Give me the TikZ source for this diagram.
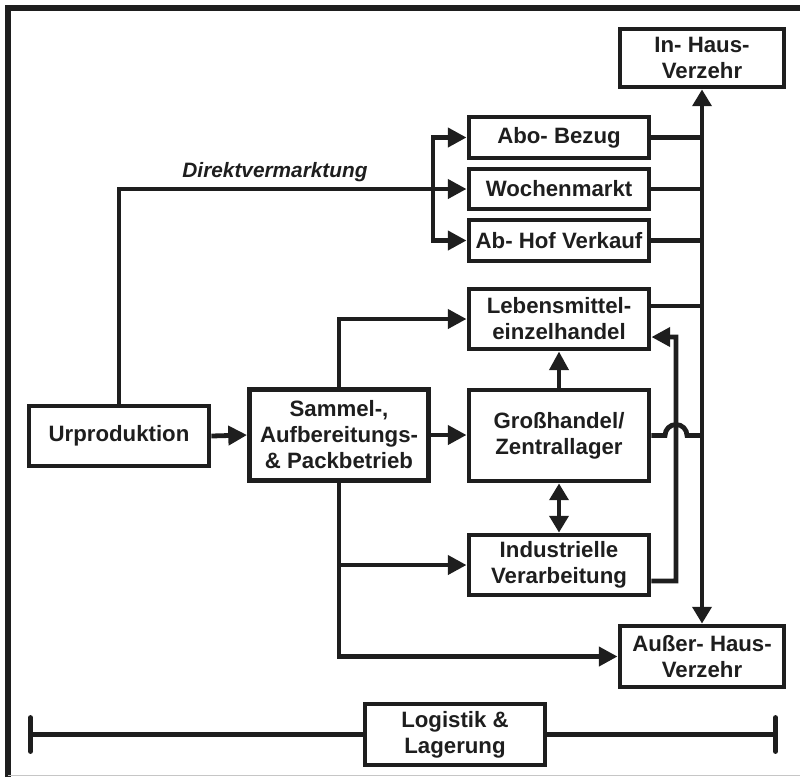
\documentclass[tikz,border=0pt]{standalone}
\usepackage{fontspec}
\setmainfont{Liberation Sans}
\usetikzlibrary{arrows.meta, calc}
\definecolor{ink}{HTML}{1E1E1E}

\tikzset{
    box/.style={draw=ink, line width=0.12cm, text=ink, align=center, inner sep=0pt,
        minimum width=4.5cm, font=\fontsize{15.8}{18.5}\selectfont\bfseries},
    flow/.style={draw=ink, line width=0.12cm},
    arr/.style={flow, -{Triangle[length=0.47cm, width=0.47cm]}},
    darr/.style={flow, {Triangle[length=0.42cm, width=0.47cm]}-{Triangle[length=0.42cm, width=0.47cm]}},
    barl/.style={flow, {Bar[width=0.85cm, round]}-},
    barr/.style={flow, -{Bar[width=0.85cm, round]}}
}

\begin{document}
\begin{tikzpicture}[x=0.025cm, y=-0.025cm]
                \useasboundingbox (0,0) rectangle (800,777);

                % Rahmen
                \draw[ink, line width=0.13cm] (8,777) -- (8,8) -- (800,8);
                \draw[gray!45, line width=0.03cm] (8,775.5) -- (800,775.5);

                % Erzeugung
                \node[box, minimum height=1.5cm] (urprod) at (119,436) {Urproduktion};
                \node[box, minimum width=4.475cm, minimum height=2.275cm] (sammel) at (339,435)
                    {Sammel-,\\Aufbereitungs-\\\& Packbetrieb};

                % Absatzwege
                \node[box, minimum height=1.025cm] (abo) at (559,137.5) {Abo- Bezug};
                \node[box, minimum height=1.0cm] (woche) at (559,189) {Wochenmarkt};
                \node[box, minimum height=1.025cm] (abhof) at (559,240.5) {Ab- Hof Verkauf};
                \node[box, minimum height=1.5cm] (lebens) at (559,319) {Lebensmittel-\\einzelhandel};
                \node[box, minimum height=2.275cm] (gross) at (559,435.5) {Großhandel/\\Zentrallager};
                \node[box, minimum height=1.5cm] (indust) at (559,565) {Industrielle\\Verarbeitung};

                % Verzehr
                \node[box, minimum width=4.1cm, minimum height=1.45cm] (inhaus) at (702,58) {In- Haus-\\Verzehr};
                \node[box, minimum width=4.1cm, minimum height=1.525cm] (ausser) at (702,656.5) {Außer- Haus-\\Verzehr};

                % Logistik
                \node[box, minimum height=1.525cm] (logistik) at (455,734.5) {Logistik \&\\Lagerung};
                \coordinate (logl) at (28,734.5);
                \coordinate (logr) at (778,734.5);

                % Direktvermarktung
                \coordinate (split) at (433,189);
                \draw[arr] (urprod.north) |- (woche.west);
                \node[anchor=base, text=ink, font=\fontsize{14.8}{17}\selectfont\bfseries\itshape] (direkt) at (275,177) {Direktvermarktung};
                \draw[arr] (split) |- (abo.west);
                \draw[arr] (split) |- (abhof.west);

                % Sammelbetrieb
                \draw[arr] (urprod.east) -- (sammel.west);
                \draw[arr] (sammel.east) -- (sammel.east -| gross.west);
                \draw[arr] (sammel.north) |- (lebens.west);
                \draw[arr] (sammel.south) |- (ausser.west);
                \draw[arr] (sammel.south |- indust.west) -- (indust.west);

                % Handel und Verarbeitung
                \draw[arr] (gross.north) -- (lebens.south);
                \draw[darr] (gross.south) -- (indust.north);
                \draw[arr] ([yshift=-0.4cm]indust.east) -| (676,337) -- ([yshift=-0.45cm]lebens.east);

                % Sammelschiene zum Verzehr
                \draw[darr] (inhaus.south) -- (ausser.north);
                \draw[flow] (abo.east) -- (abo.east -| inhaus.south);
                \draw[flow] (woche.east) -- (woche.east -| inhaus.south);
                \draw[flow] (abhof.east) -- (abhof.east -| inhaus.south);
                \draw[flow] ([yshift=0.325cm]lebens.east) -- ([yshift=0.325cm]lebens.east -| inhaus.south);
                \draw[flow] (gross.east) -- (665,435.5) arc[start angle=180, end angle=0, radius=0.275cm]
                    -- (gross.east -| inhaus.south);

                % Logistiklinie
                \draw[barl] (logl) -- (logistik.west);
                \draw[barr] (logistik.east) -- (logr);
            \end{tikzpicture}
\end{document}
